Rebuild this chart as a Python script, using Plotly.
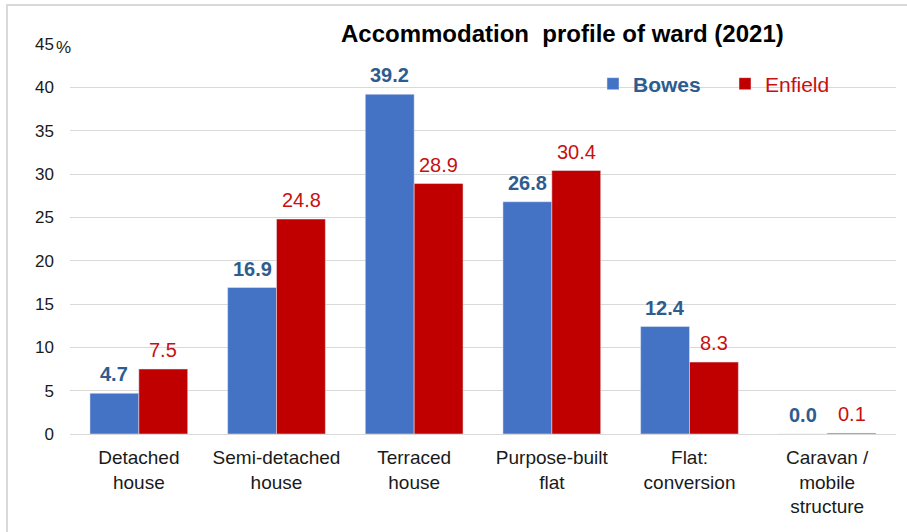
import plotly.graph_objects as go

categories = ["Detached<br>house", "Semi-detached<br>house", "Terraced<br>house",
              "Purpose-built<br>flat", "Flat:<br>conversion", "Caravan /<br>mobile<br>structure"]
bowes = [4.7, 16.9, 39.2, 26.8, 12.4, 0.0]
enfield = [7.5, 24.8, 28.9, 30.4, 8.3, 0.1]
y_ticks = [0, 5, 10, 15, 20, 25, 30, 35, 40, 45]
title_text = "Accommodation  profile of ward (2021)"

BLUE = "#4472C4"
RED = "#C00000"
BLUE_TXT = "#2E5C8E"
RED_TXT = "#C81010"
FONT = "Arial, 'Liberation Sans', sans-serif"

W, H = 907, 532
L, R, T, B = 70, 11, 44, 98
pw = W - L - R
ph = H - T - B

def px_x(p):
    return (p - L) / pw

def px_y(p):
    return (H - B - p) / ph

fig = go.Figure()
fig.add_trace(go.Bar(x=categories, y=bowes, marker_color=BLUE,
                     name="<b><span style='color:%s'>Bowes</span></b>" % BLUE_TXT))
fig.add_trace(go.Bar(x=categories, y=enfield, marker_color=RED,
                     name="<span style='color:%s'>Enfield</span>" % RED_TXT))

annotations = []
for c, v in zip(categories, bowes):
    annotations.append(dict(x=c, y=v, xref="x", yref="y", text="<b>%.1f</b>" % v,
                            showarrow=False, xshift=-24.5, yshift=19, yanchor="middle",
                            font=dict(family=FONT, size=20, color=BLUE_TXT)))
for c, v in zip(categories, enfield):
    annotations.append(dict(x=c, y=v, xref="x", yref="y", text="%.1f" % v,
                            showarrow=False, xshift=24.5, yshift=19, yanchor="middle",
                            font=dict(family=FONT, size=20, color=RED_TXT)))
annotations.append(dict(x=px_x(562.5), y=px_y(33), xref="paper", yref="paper",
                        text="<b>%s</b>" % title_text, showarrow=False,
                        xanchor="center", yanchor="middle",
                        font=dict(family=FONT, size=24, color="#000000")))
annotations.append(dict(x=px_x(63), y=px_y(48), xref="paper", yref="paper",
                        text="%", showarrow=False, xanchor="center", yanchor="middle",
                        font=dict(family=FONT, size=17, color="#1a1a1a")))

shapes = [
    # chart border
    dict(type="rect", xref="paper", yref="paper", x0=px_x(7), x1=px_x(925),
         y0=px_y(550), y1=px_y(5), line=dict(color="#D9D9D9", width=2),
         fillcolor="rgba(0,0,0,0)", layer="below"),
    # gaps in gridlines behind title and legend
    dict(type="rect", xref="paper", yref="paper", x0=px_x(335), x1=px_x(783),
         y0=px_y(48), y1=px_y(40), line=dict(width=0), fillcolor="white", layer="between"),
    dict(type="rect", xref="paper", yref="paper", x0=px_x(565), x1=px_x(854),
         y0=px_y(91), y1=px_y(83), line=dict(width=0), fillcolor="white", layer="between"),
]

fig.update_layout(
    width=W, height=H,
    margin=dict(l=L, r=R, t=T, b=B, autoexpand=False),
    paper_bgcolor="white", plot_bgcolor="white",
    barmode="group", bargap=0.29, bargroupgap=0,
    font=dict(family=FONT, size=17, color="#1a1a1a"),
    showlegend=True,
    legend=dict(orientation="h", x=px_x(593), y=px_y(84), xanchor="left", yanchor="middle",
                bgcolor="rgba(0,0,0,0)", font=dict(family=FONT, size=21),
                itemwidth=30, traceorder="normal", entrywidth=87),
    annotations=annotations,
    shapes=shapes,
)
fig.update_yaxes(range=[0, 45], tickvals=y_ticks, showgrid=True, gridcolor="#D9D9D9",
                 gridwidth=1, zeroline=False, showline=False,
                 tickfont=dict(family=FONT, size=17, color="#1a1a1a"),
                 ticklabelstandoff=15, fixedrange=True)
fig.update_xaxes(showgrid=False, showline=True, linecolor="#D9D9D9", linewidth=1,
                 tickfont=dict(family=FONT, size=19, color="#1a1a1a"),
                 ticklabelstandoff=6, fixedrange=True)

fig.write_html("out.html", config={"displayModeBar": False},
               post_script="document.body.style.margin='0';")
